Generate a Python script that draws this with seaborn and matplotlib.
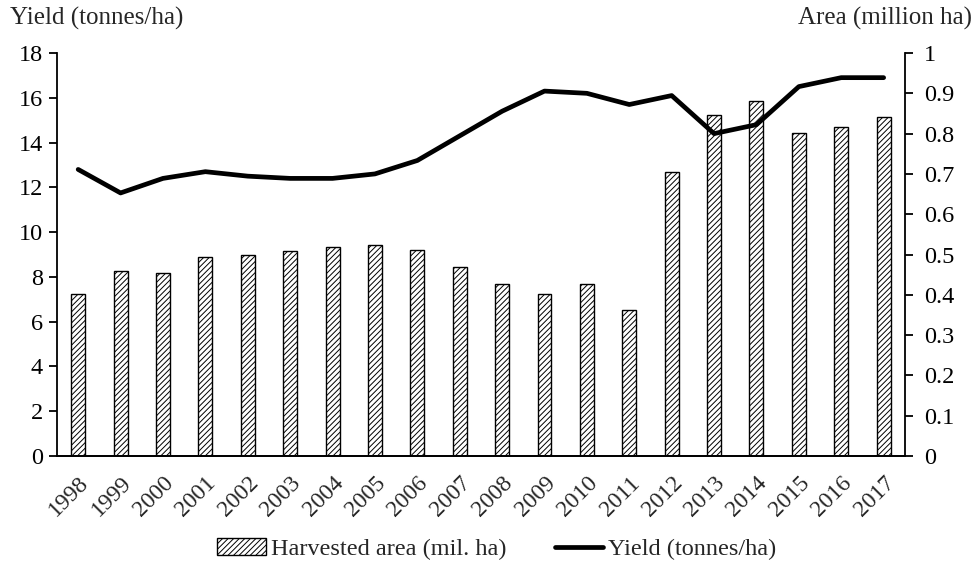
import numpy as np
import pandas as pd
import seaborn as sns
import matplotlib
matplotlib.use("Agg")
import matplotlib.pyplot as plt
from matplotlib.patches import Patch
from matplotlib.lines import Line2D

sns.set_theme(style="white")
plt.rcParams['font.family'] = ['Liberation Serif', 'DejaVu Serif']
plt.rcParams['hatch.linewidth'] = 0.7
plt.rcParams['hatch.color'] = '#333333'

years = [str(y) for y in range(1998, 2018)]
area = [0.401, 0.459, 0.453, 0.495, 0.500, 0.509, 0.518, 0.523, 0.510, 0.470,
        0.428, 0.401, 0.427, 0.362, 0.705, 0.846, 0.881, 0.801, 0.816, 0.841]
yield_t = [12.8, 11.75, 12.4, 12.7, 12.5, 12.4, 12.4, 12.6, 13.2, 14.3,
           15.4, 16.3, 16.2, 15.7, 16.1, 14.4, 14.8, 16.5, 16.9, 16.9]

df = pd.DataFrame({"year": years, "area": area, "yield": yield_t})
df["pos"] = np.arange(len(df))

fig = plt.figure(figsize=(9.74, 5.72), dpi=100)
ax = fig.add_axes([0.0585, 0.2028, 0.8705, 0.7045])
ax2 = ax.twinx()

# bars on the right axis
sns.barplot(data=df, x="pos", y="area", ax=ax2, width=0.33,
            color="white", edgecolor="black", linewidth=1.0, saturation=1)
for p in ax2.patches:
    p.set_hatch("//////")

# line on the left axis, drawn on top
sns.lineplot(data=df, x="pos", y="yield", ax=ax, color="black", linewidth=3.4)
ax.set_zorder(ax2.get_zorder() + 1)
ax.patch.set_visible(False)

ax.set_xlim(-0.5, len(df) - 0.5)
ax.set_ylim(0, 18)
ax.set_yticks(range(0, 19, 2))
ax2.set_ylim(0, 1)
ax2.set_yticks(np.arange(0, 1.01, 0.1))
ax2.set_yticklabels(["0"] + [f"{v:.1f}" for v in np.arange(0.1, 0.95, 0.1)] + ["1"])

ax.set_xticks(df["pos"])
ax.set_xticklabels(years, rotation=45, ha="right", rotation_mode="anchor", fontsize=17)
ax.set_xlabel("")
ax.set_ylabel("")
ax2.set_xlabel("")
ax2.set_ylabel("")

for a in (ax, ax2):
    for s in a.spines.values():
        s.set_visible(False)
    a.spines["bottom"].set_visible(True)
    a.spines["bottom"].set_color("black")
    a.spines["bottom"].set_linewidth(1.3)
ax.spines["left"].set_visible(True)
ax.spines["left"].set_color("black")
ax.spines["left"].set_linewidth(1.3)
ax2.spines["right"].set_visible(True)
ax2.spines["right"].set_color("black")
ax2.spines["right"].set_linewidth(1.3)

ax.tick_params(axis="y", left=True, direction="out", length=6, width=1.3,
               labelsize=17.5, pad=4, colors="black")
ax.tick_params(axis="x", bottom=False, labelsize=17, pad=6)
ax2.tick_params(axis="y", right=True, direction="out", length=6, width=1.3,
                labelsize=17.5, pad=8, colors="black")
ax2.tick_params(axis="x", bottom=False, labelbottom=False)

fig.text(0.010, 0.968, "Yield (tonnes/ha)", fontsize=18, ha="left", va="center")
fig.text(0.998, 0.968, "Area (million ha)", fontsize=18, ha="right", va="center")

handles = [Patch(facecolor="white", edgecolor="black", hatch="//////", linewidth=1.0),
           Line2D([0], [0], color="black", linewidth=3.4)]
fig.legend(handles, ["Harvested area (mil. ha)", "Yield (tonnes/ha)"],
           loc="center", bbox_to_anchor=(0.51, 0.04), ncol=2, frameon=False,
           fontsize=17.5, handlelength=2.0, handletextpad=0.2, columnspacing=2.0)

fig.savefig("out.png", dpi=100)
